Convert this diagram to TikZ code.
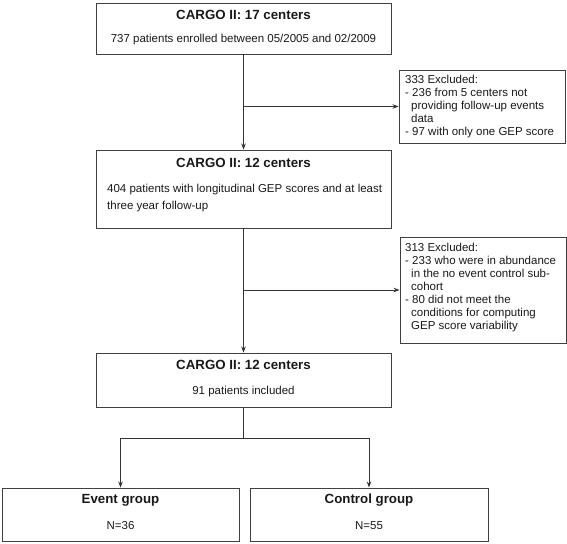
\documentclass[tikz,border=0pt]{standalone}
\usepackage{fontspec}
\setmainfont{Liberation Sans}
\usetikzlibrary{arrows.meta}
\begin{document}
\begin{tikzpicture}[x=1pt,y=-1pt,
  box/.style={draw=black!75, line width=0.9pt, inner sep=0pt},
  ttl/.style={font=\fontsize{13.3}{15}\selectfont\bfseries, text=black!90, inner sep=0pt},
  bdy/.style={font=\fontsize{11.5}{13}\selectfont, text=black!90, inner sep=0pt},
  exc/.style={font=\fontsize{11.5}{13}\selectfont, text=black!90, inner sep=0pt, align=left, anchor=north west},
  arr/.style={draw=black!80, line width=1pt, -{Stealth[length=6pt,width=4.5pt]}},
  ln/.style={draw=black!80, line width=1pt}]
\useasboundingbox (0,0) rectangle (567,543);

% main boxes
\node[box, minimum width=295pt, minimum height=51pt] (b1) at (243.5,28.5) {};
\node[ttl] (t1) at (243.5,15) {CARGO II: 17 centers};
\node[bdy] (d1) at (243.5,40) {737 patients enrolled between 05/2005 and 02/2009};

\node[box, minimum width=295pt, minimum height=78pt] (b2) at (243.5,189) {};
\node[ttl] (t2) at (243.5,163) {CARGO II: 12 centers};
\node[exc, font=\fontsize{11.5}{17}\selectfont] (d2) at (107,183.6) {404 patients with longitudinal GEP scores and at least\\three year follow-up};

\node[box, minimum width=295pt, minimum height=54pt] (b3) at (243.5,380) {};
\node[ttl] (t3) at (243.5,365) {CARGO II: 12 centers};
\node[bdy] (d3) at (243.5,392) {91 patients included};

% exclusion boxes
\node[box, minimum width=166pt, minimum height=73pt] (e1) at (482,106.5) {};
\node[exc] (x1) at (405,74.6) {333 Excluded:\\- 236 from 5 centers not\\\hspace*{6pt}providing follow-up events\\\hspace*{6pt}data\\- 97 with only one GEP score};

\node[box, minimum width=166pt, minimum height=106pt] (e2) at (483,290) {};
\node[exc] (x2) at (405,242.6) {313 Excluded:\\- 233 who were in abundance\\\hspace*{6pt}in the no event control sub-\\\hspace*{6pt}cohort\\- 80 did not meet the\\\hspace*{6pt}conditions for computing\\\hspace*{6pt}GEP score variability};

% group boxes
\node[box, minimum width=237pt, minimum height=53pt] (ev) at (120.5,514.5) {};
\node[ttl] (t4) at (120.5,500) {Event group};
\node[bdy] (d4) at (120.5,526) {N=36};

\node[box, minimum width=238pt, minimum height=53pt] (ct) at (369,514.5) {};
\node[ttl] (t5) at (369,500) {Control group};
\node[bdy] (d5) at (369,526) {N=55};

% connectors
\draw[arr] (b1.south) -- (b2.north);
\draw[arr] (b1.south |- e1.west) -- (e1.west);
\draw[arr] (b2.south) -- (b3.north);
\draw[arr] (b2.south |- e2.west) -- (e2.west);
\coordinate (j3) at (243.5,438);
\draw[ln] (b3.south) -- (j3);
\draw[arr] (j3) -| (ev.north);
\draw[arr] (j3) -| (ct.north);
\end{tikzpicture}
\end{document}
